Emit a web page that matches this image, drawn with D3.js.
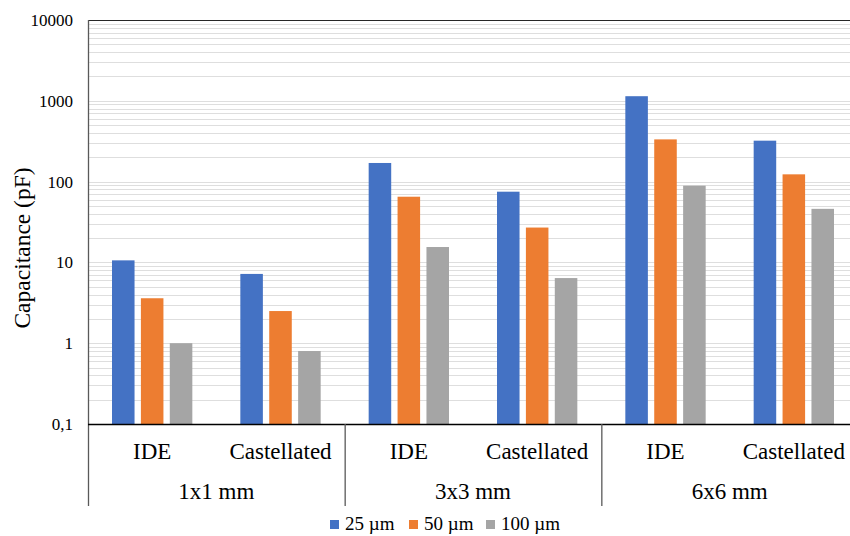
<!DOCTYPE html>
<html>
<head>
<meta charset="utf-8">
<script src="https://cdn.jsdelivr.net/npm/d3@7"></script>
<style>
  body { margin: 0; background: #fff; }
  svg text { font-family: "Liberation Serif", "Times New Roman", serif; fill: #000; }
</style>
</head>
<body>
<div id="chart"></div>
<script>
// categories (inner) and groups (outer)
var groups = ["1x1 mm", "3x3 mm", "6x6 mm"];
var types = ["IDE", "Castellated"];
var series = ["25 µm", "50 µm", "100 µm"];
var colors = ["#4472C4", "#ED7D31", "#A5A5A5"];

// values in pF, one array per series, order: 1x1 IDE, 1x1 Cast, 3x3 IDE, 3x3 Cast, 6x6 IDE, 6x6 Cast
var v25 = [10.6, 7.2, 170, 75, 1140, 321];
var v50 = [3.6, 2.5, 65, 27, 333, 123];
var v100 = [1.0, 0.8, 15.5, 6.4, 89, 46];
var yTicks = [0.1, 1, 10, 100, 1000, 10000];
var yTickLabels = ["0,1", "1", "10", "100", "1000", "10000"];

var values = [v25, v50, v100];
var cats = [];
groups.forEach(function(g) { types.forEach(function(t) { cats.push(g + "|" + t); }); });

var W = 850, H = 536;
var pLeft = 88, pRight = 858, pTop = 20, pBottom = 424, lineEnd = 506;

var svg = d3.select("#chart").append("svg").attr("width", W).attr("height", H);

var y = d3.scaleLog().domain([0.1, 10000]).range([pBottom, pTop]);
var x0 = d3.scaleBand().domain(cats).range([pLeft, pRight]).padding(0);
var xg = d3.scaleBand().domain(groups).range([pLeft, pRight]).padding(0);
var cw = x0.bandwidth();
var x1 = d3.scaleBand().domain(d3.range(series.length)).range([24, cw - 24]).paddingInner(0.22);

// minor + major gridlines
var grid = [];
for (var e = -1; e < 4; e++) {
  for (var m = 1; m < 10; m++) grid.push(m * Math.pow(10, e));
}
svg.append("g").selectAll("line").data(grid).enter().append("line")
  .attr("x1", pLeft).attr("x2", pRight)
  .attr("y1", function(d) { return Math.round(y(d)) + 0.5; })
  .attr("y2", function(d) { return Math.round(y(d)) + 0.5; })
  .attr("stroke", "#dedede").attr("stroke-width", 1);

// top border line
svg.append("line").attr("x1", pLeft).attr("x2", pRight)
  .attr("y1", y(10000) + 0.5).attr("y2", y(10000) + 0.5)
  .attr("stroke", "#262626").attr("stroke-width", 1.2);

// bars
var barData = [];
cats.forEach(function(c, i) {
  series.forEach(function(s, j) { barData.push({cat: c, s: j, v: values[j][i]}); });
});
svg.append("g").selectAll("rect").data(barData).enter().append("rect")
  .attr("x", function(d) { return x0(d.cat) + x1(d.s); })
  .attr("width", x1.bandwidth())
  .attr("y", function(d) { return y(d.v); })
  .attr("height", function(d) { return y(0.1) - y(d.v); })
  .attr("fill", function(d) { return colors[d.s]; });

// y axis
var yAxis = d3.axisLeft(y).tickValues(yTicks)
  .tickFormat(function(d, i) { return yTickLabels[i]; })
  .tickSize(0).tickPadding(15);
var ga = svg.append("g").attr("transform", "translate(" + pLeft + ",0)").call(yAxis);
ga.select(".domain").remove();
ga.selectAll("text").attr("font-size", 17).attr("font-family", "Liberation Serif");

// left axis line, extended below through category labels
svg.append("line").attr("x1", pLeft + 0.5).attr("x2", pLeft + 0.5)
  .attr("y1", pTop).attr("y2", lineEnd)
  .attr("stroke", "#595959").attr("stroke-width", 1.3);

// bottom axis line
svg.append("line").attr("x1", pLeft).attr("x2", pRight)
  .attr("y1", pBottom + 0.5).attr("y2", pBottom + 0.5)
  .attr("stroke", "#000").attr("stroke-width", 1.3);

// group separators
svg.append("g").selectAll("line").data(groups.slice(1).concat(["end"])).enter().append("line")
  .attr("x1", function(d) { return d === "end" ? pRight : xg(d) + 0.5; })
  .attr("x2", function(d) { return d === "end" ? pRight : xg(d) + 0.5; })
  .attr("y1", pBottom).attr("y2", lineEnd)
  .attr("stroke", "#595959").attr("stroke-width", 1.3);

// category labels
svg.append("g").selectAll("text").data(cats).enter().append("text")
  .attr("x", function(d) { return x0(d) + cw / 2; })
  .attr("y", 459)
  .attr("text-anchor", "middle").attr("font-size", 23)
  .text(function(d) { return d.split("|")[1]; });

// group labels
svg.append("g").selectAll("text").data(groups).enter().append("text")
  .attr("x", function(d) { return xg(d) + xg.bandwidth() / 2; })
  .attr("y", 499)
  .attr("text-anchor", "middle").attr("font-size", 23)
  .text(function(d) { return d; });

// y axis title
svg.append("text")
  .attr("transform", "translate(30,248) rotate(-90)")
  .attr("text-anchor", "middle").attr("font-size", 23.5)
  .text("Capacitance (pF)");

// legend
var legX = [330, 409, 486];
var leg = svg.append("g").selectAll("g").data(series).enter().append("g")
  .attr("transform", function(d, i) { return "translate(" + legX[i] + ",520)"; });
leg.append("rect").attr("width", 9).attr("height", 9)
  .attr("fill", function(d, i) { return colors[i]; });
leg.append("text").attr("x", 15).attr("y", 10).attr("font-size", 19)
  .text(function(d) { return d; });
</script>
</body>
</html>
